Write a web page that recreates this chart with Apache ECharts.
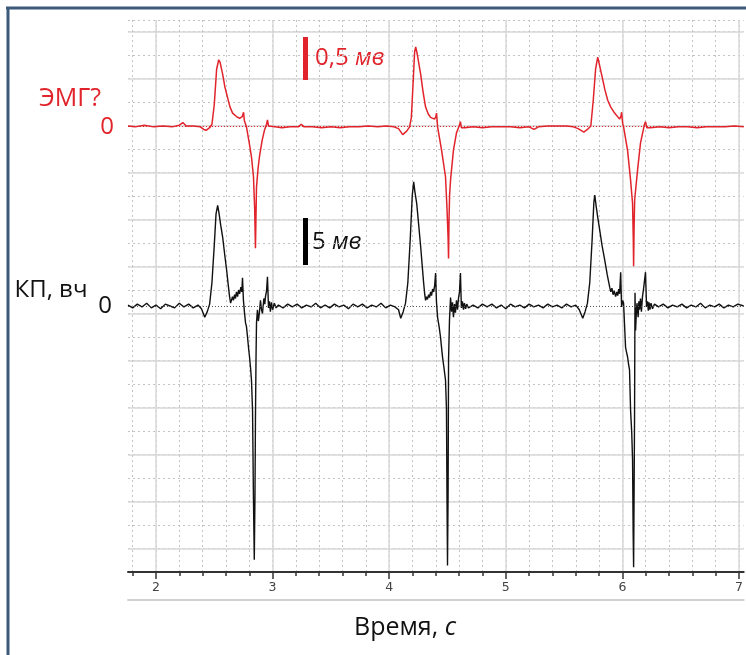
<!DOCTYPE html>
<html><head><meta charset="utf-8">
<script src="https://cdn.jsdelivr.net/npm/echarts@6/dist/echarts.min.js"></script>
<style>html,body{margin:0;padding:0;background:#fff}#c{width:746px;height:655px}</style>
</head><body><div id="c"></div>
<script>
// ---- axis tick values ----
const xTickLabels = [2, 3, 4, 5, 6, 7];
const xMinorTicks = [1.8, 2, 2.2, 2.4, 2.6, 2.8, 3, 3.2, 3.4, 3.6, 3.8, 4, 4.2, 4.4, 4.6, 4.8, 5, 5.2, 5.4, 5.6, 5.8, 6, 6.2, 6.4, 6.6, 6.8, 7];
const gridMajorRows = [1, 3, 5, 7, 9, 11, 13, 15, 17, 19, 21, 23];

// ---- scale bars (time, [from, to] in mV) ----
const scaleBarTime = 3.276;
const redScaleBar = [0.535, 1.035];   // 0,5 мв
const blackScaleBar = [4.36, 9.36];   // 5 мв

// ---- ЭМГ trace (time s, mV) ----
const redEMG = [[1.76,0.00],[1.82,-0.01],[1.90,0.01],[1.98,-0.01],[2.06,0.00],[2.14,-0.01],[2.20,0.01],[2.23,0.04],[2.26,0.00],[2.32,0.00],[2.38,-0.01],[2.41,-0.04],[2.43,-0.05],[2.46,-0.02],[2.48,0.02],[2.50,0.25],[2.52,0.66],[2.538,0.77],[2.55,0.74],[2.572,0.60],[2.59,0.46],[2.614,0.33],[2.635,0.22],[2.657,0.15],[2.69,0.11],[2.717,0.09],[2.74,0.11],[2.751,0.16],[2.758,0.06],[2.776,-0.01],[2.80,-0.20],[2.819,-0.36],[2.836,-0.59],[2.846,-0.95],[2.853,-1.42],[2.857,-1.10],[2.862,-0.71],[2.875,-0.50],[2.887,-0.36],[2.91,-0.17],[2.93,-0.05],[2.948,0.02],[2.956,0.07],[2.965,0.00],[2.981,-0.02],[3.02,-0.01],[3.08,-0.02],[3.15,-0.01],[3.22,-0.01],[3.246,0.02],[3.27,-0.01],[3.34,-0.01],[3.42,-0.02],[3.50,-0.01],[3.58,-0.02],[3.66,-0.01],[3.74,-0.01],[3.82,0.00],[3.90,-0.01],[3.98,0.00],[4.04,-0.01],[4.08,-0.03],[4.116,-0.10],[4.15,-0.06],[4.175,-0.01],[4.19,0.10],[4.205,0.50],[4.218,0.86],[4.227,0.92],[4.24,0.84],[4.27,0.60],[4.29,0.40],[4.312,0.22],[4.335,0.14],[4.355,0.10],[4.389,0.08],[4.400,0.11],[4.406,0.15],[4.415,-0.01],[4.449,-0.28],[4.483,-0.59],[4.495,-0.94],[4.505,-1.30],[4.509,-1.54],[4.513,-1.10],[4.518,-0.80],[4.526,-0.63],[4.551,-0.28],[4.577,-0.08],[4.60,0.00],[4.611,0.05],[4.619,-0.02],[4.65,-0.02],[4.72,-0.01],[4.80,-0.02],[4.88,-0.01],[4.96,-0.01],[5.04,-0.01],[5.12,-0.02],[5.20,-0.01],[5.242,-0.04],[5.28,-0.01],[5.36,0.00],[5.44,0.00],[5.52,0.00],[5.58,-0.01],[5.62,-0.03],[5.669,-0.07],[5.70,-0.04],[5.729,0.00],[5.75,0.30],[5.77,0.66],[5.788,0.80],[5.80,0.73],[5.831,0.54],[5.85,0.42],[5.874,0.30],[5.90,0.22],[5.933,0.15],[5.976,0.08],[5.988,0.12],[5.993,0.16],[6.002,0.03],[6.010,-0.01],[6.044,-0.28],[6.070,-0.63],[6.087,-0.90],[6.093,-1.30],[6.096,-1.63],[6.100,-1.20],[6.105,-0.86],[6.130,-0.51],[6.155,-0.20],[6.180,-0.04],[6.189,0.02],[6.198,0.05],[6.21,-0.02],[6.24,-0.02],[6.32,-0.01],[6.40,-0.02],[6.48,-0.01],[6.56,-0.01],[6.64,-0.02],[6.72,-0.01],[6.80,-0.01],[6.88,-0.01],[6.96,0.00],[7.04,-0.01]];

// ---- КП, вч trace (time s, mV) ----
const blackKP = [[1.76,0.1],[1.80,-0.2],[1.84,0.2],[1.88,-0.1],[1.92,0.3],[1.96,-0.2],[2.00,0.1],[2.04,-0.3],[2.08,0.2],[2.12,0.0],[2.16,-0.2],[2.20,0.3],[2.24,-0.1],[2.28,0.2],[2.32,-0.2],[2.36,0.1],[2.39,-0.3],[2.418,-1.2],[2.44,-0.6],[2.46,0.2],[2.48,2.5],[2.50,6.5],[2.515,9.8],[2.529,10.7],[2.54,9.9],[2.555,8.6],[2.572,7.3],[2.59,5.4],[2.606,3.8],[2.62,2.2],[2.631,1.0],[2.640,0.3],[2.648,0.5],[2.656,1.0],[2.664,0.6],[2.674,1.2],[2.682,0.8],[2.690,1.5],[2.700,1.0],[2.708,1.7],[2.717,1.3],[2.728,2.0],[2.736,1.5],[2.742,3.0],[2.750,0.6],[2.759,-0.7],[2.768,-1.8],[2.776,-2.2],[2.785,-3.3],[2.795,-4.6],[2.802,-5.4],[2.811,-6.6],[2.819,-7.9],[2.828,-11.1],[2.836,-20.6],[2.843,-27.0],[2.849,-20.0],[2.853,-12.0],[2.858,-5.4],[2.862,-1.8],[2.870,-0.4],[2.878,-1.6],[2.887,-0.7],[2.896,0.6],[2.904,-0.3],[2.913,-0.8],[2.925,0.8],[2.933,0.2],[2.939,1.0],[2.948,1.6],[2.956,3.1],[2.965,-0.2],[2.973,0.5],[2.981,-0.6],[2.990,0.4],[3.000,-0.4],[3.015,0.3],[3.030,-0.2],[3.05,0.1],[3.09,-0.2],[3.13,0.2],[3.17,-0.1],[3.21,0.2],[3.25,-0.2],[3.29,0.1],[3.33,-0.1],[3.37,0.3],[3.41,-0.2],[3.45,0.1],[3.49,-0.2],[3.53,0.2],[3.57,-0.1],[3.61,0.1],[3.65,-0.3],[3.69,0.2],[3.73,-0.1],[3.77,0.2],[3.81,-0.2],[3.85,0.1],[3.89,-0.1],[3.93,0.3],[3.97,-0.2],[4.01,0.1],[4.05,-0.1],[4.08,-0.4],[4.099,-1.3],[4.12,-0.6],[4.14,0.3],[4.16,2.5],[4.18,7.0],[4.198,11.8],[4.210,13.2],[4.220,12.2],[4.236,10.9],[4.253,8.6],[4.270,6.3],[4.283,4.3],[4.295,2.5],[4.305,1.2],[4.312,0.6],[4.320,1.0],[4.328,0.7],[4.338,1.2],[4.346,0.9],[4.355,1.5],[4.363,1.1],[4.372,1.8],[4.381,1.5],[4.390,2.2],[4.398,3.5],[4.405,0.5],[4.415,-1.2],[4.428,-2.2],[4.440,-3.3],[4.448,-4.3],[4.457,-5.4],[4.470,-6.6],[4.483,-7.9],[4.491,-10.9],[4.496,-21.0],[4.500,-27.6],[4.505,-20.0],[4.509,-5.7],[4.517,-1.5],[4.526,0.9],[4.535,-0.6],[4.543,0.4],[4.551,-1.2],[4.560,0.2],[4.568,-0.7],[4.577,0.6],[4.586,-0.4],[4.594,0.8],[4.603,1.5],[4.611,3.5],[4.619,-0.2],[4.628,0.5],[4.637,-0.4],[4.645,0.3],[4.655,-0.3],[4.665,0.2],[4.679,-0.2],[4.72,0.1],[4.76,-0.2],[4.80,0.2],[4.84,-0.1],[4.88,0.2],[4.92,-0.2],[4.96,0.1],[5.00,-0.3],[5.04,0.2],[5.08,-0.1],[5.12,0.1],[5.16,-0.2],[5.20,0.2],[5.24,-0.1],[5.28,0.1],[5.32,-0.2],[5.36,0.2],[5.40,-0.1],[5.44,0.1],[5.48,-0.2],[5.52,0.2],[5.56,-0.1],[5.60,0.1],[5.63,-0.4],[5.660,-1.3],[5.68,-0.6],[5.70,0.3],[5.72,2.5],[5.74,7.0],[5.755,11.0],[5.763,11.8],[5.775,10.6],[5.790,9.3],[5.805,8.1],[5.826,6.4],[5.848,4.9],[5.870,3.3],[5.891,2.0],[5.900,1.5],[5.910,1.9],[5.920,1.2],[5.930,1.6],[5.942,1.0],[5.952,1.5],[5.960,1.1],[5.968,1.8],[5.976,1.3],[5.985,3.6],[5.993,-0.1],[6.002,0.6],[6.010,0.3],[6.019,-2.2],[6.027,-4.4],[6.035,-4.9],[6.044,-5.4],[6.053,-6.2],[6.061,-6.8],[6.070,-11.1],[6.080,-13.5],[6.087,-16.4],[6.092,-24.0],[6.096,-27.8],[6.100,-20.0],[6.104,-11.8],[6.108,1.4],[6.113,-2.6],[6.120,-0.6],[6.125,0.3],[6.135,-1.2],[6.141,0.5],[6.147,-0.4],[6.155,0.8],[6.163,-0.6],[6.172,1.0],[6.181,1.8],[6.190,2.0],[6.198,3.6],[6.207,-0.1],[6.215,0.5],[6.222,-0.5],[6.228,0.4],[6.236,-0.4],[6.245,0.3],[6.258,-0.3],[6.275,0.2],[6.31,-0.1],[6.35,0.2],[6.39,-0.2],[6.43,0.1],[6.47,-0.1],[6.51,0.2],[6.55,-0.2],[6.59,0.1],[6.63,-0.1],[6.67,0.3],[6.71,-0.2],[6.75,0.1],[6.79,-0.1],[6.83,0.2],[6.87,-0.2],[6.91,0.1],[6.95,-0.1],[6.99,0.2],[7.04,0.0]];

const RED = '#e1242b';
const BLACK = '#111';
const FONT = '"Open Sans", "Noto Sans", sans-serif';
const gridRows = 552 / 23.5;

const chart = echarts.init(document.getElementById('c'), null, {renderer: 'canvas'});
const xBase = {type: 'value', min: 1.76, max: 7.04, position: 'bottom'};
const option = {
  animation: false,
  backgroundColor: '#fff',
  grid: {left: 128, right: 0, top: 20, bottom: 83},
  xAxis: [
    Object.assign({}, xBase, {
      axisLine: {show: true, onZero: false, lineStyle: {color: '#333', width: 2}},
      axisTick: {show: true, customValues: xMinorTicks, length: 4, lineStyle: {color: '#333', width: 1.5}},
      axisLabel: {show: true, customValues: xTickLabels, margin: 9, color: '#444', fontSize: 12.5, fontFamily: 'DejaVu Sans'},
      splitLine: {show: true, lineStyle: {color: '#c4c4c4', type: [2, 3], width: 1}}
    }),
    Object.assign({}, xBase, {
      axisLine: {show: false, onZero: false},
      axisTick: {show: true, customValues: xTickLabels, length: 7, lineStyle: {color: '#333', width: 1.5}},
      axisLabel: {show: false},
      splitLine: {show: true, lineStyle: {color: '#d9d9d9', width: 1.5}}
    }),
    Object.assign({}, xBase, {
      offset: 28,
      axisLine: {show: true, onZero: false, lineStyle: {color: '#d2d2d2', width: 2}},
      axisTick: {show: false}, axisLabel: {show: false}, splitLine: {show: false}
    })
  ],
  yAxis: [
    {type: 'value', min: 0, max: gridRows, interval: 1, position: 'left',
      axisLine: {show: false}, axisTick: {show: false}, axisLabel: {show: false},
      splitLine: {show: true, lineStyle: {color: '#c4c4c4', type: [2, 3], width: 1}}},
    {type: 'value', min: 0, max: gridRows, position: 'left',
      axisLine: {show: false}, axisTick: {show: false, customValues: gridMajorRows}, axisLabel: {show: false},
      splitLine: {show: true, lineStyle: {color: '#d9d9d9', width: 1.5}}},
    {type: 'value', min: -5.186, max: 1.2326, show: false},
    {type: 'value', min: -28.298, max: 30.426, show: false}
  ],
  series: [
    {
      name: 'ЭМГ?', type: 'line', xAxisIndex: 0, yAxisIndex: 2, data: redEMG,
      showSymbol: false, symbol: 'none', lineStyle: {color: RED, width: 1.5}, z: 5,
      markLine: {
        silent: true, symbol: 'none', label: {show: false},
        lineStyle: {color: RED, type: [1, 2], width: 1},
        data: [
          {yAxis: 0},
          [{coord: [scaleBarTime, redScaleBar[0]], lineStyle: {type: 'solid', width: 5, color: RED}},
           {coord: [scaleBarTime, redScaleBar[1]]}]
        ]
      }
    },
    {
      name: 'КП, вч', type: 'line', xAxisIndex: 0, yAxisIndex: 3, data: blackKP,
      showSymbol: false, symbol: 'none', lineStyle: {color: BLACK, width: 1.4}, z: 4,
      markLine: {
        silent: true, symbol: 'none', label: {show: false},
        lineStyle: {color: '#555', type: [1, 2], width: 1},
        data: [
          {yAxis: 0},
          [{coord: [scaleBarTime, blackScaleBar[0]], lineStyle: {type: 'solid', width: 5, color: '#000'}},
           {coord: [scaleBarTime, blackScaleBar[1]]}]
        ]
      }
    }
  ],
  graphic: [
    {type: 'line', shape: {x1: 6, y1: 8, x2: 746, y2: 8}, style: {stroke: '#3d5a7c', lineWidth: 3}},
    {type: 'line', shape: {x1: 8, y1: 7, x2: 8, y2: 655}, style: {stroke: '#3d5a7c', lineWidth: 3}},
    {type: 'text', x: 70, y: 99, style: {text: 'ЭМГ?', fill: RED, font: '25px ' + FONT, align: 'center', verticalAlign: 'middle'}},
    {type: 'text', x: 107, y: 127, style: {text: '0', fill: RED, font: '24px ' + FONT, align: 'center', verticalAlign: 'middle'}},
    {type: 'text', x: 51, y: 290, style: {text: 'КП, вч', fill: BLACK, font: '24px ' + FONT, align: 'center', verticalAlign: 'middle'}},
    {type: 'text', x: 105, y: 306, style: {text: '0', fill: BLACK, font: '24px ' + FONT, align: 'center', verticalAlign: 'middle'}},
    {type: 'text', x: 315, y: 58, style: {text: '{n|0,5 }{i|мв}', align: 'left', verticalAlign: 'middle',
      rich: {n: {fill: RED, fontSize: 24, fontFamily: FONT}, i: {fill: RED, fontSize: 24, fontFamily: FONT, fontStyle: 'italic'}}}},
    {type: 'text', x: 312, y: 242, style: {text: '{n|5 }{i|мв}', align: 'left', verticalAlign: 'middle',
      rich: {n: {fill: BLACK, fontSize: 24, fontFamily: FONT}, i: {fill: BLACK, fontSize: 24, fontFamily: FONT, fontStyle: 'italic'}}}},
    {type: 'text', x: 405, y: 628, style: {text: '{n|Время, }{i|с}', align: 'center', verticalAlign: 'middle',
      rich: {n: {fill: '#111', fontSize: 25, fontFamily: FONT}, i: {fill: '#111', fontSize: 25, fontFamily: FONT, fontStyle: 'italic'}}}}
  ]
};
chart.setOption(option);
</script>
</body></html>
